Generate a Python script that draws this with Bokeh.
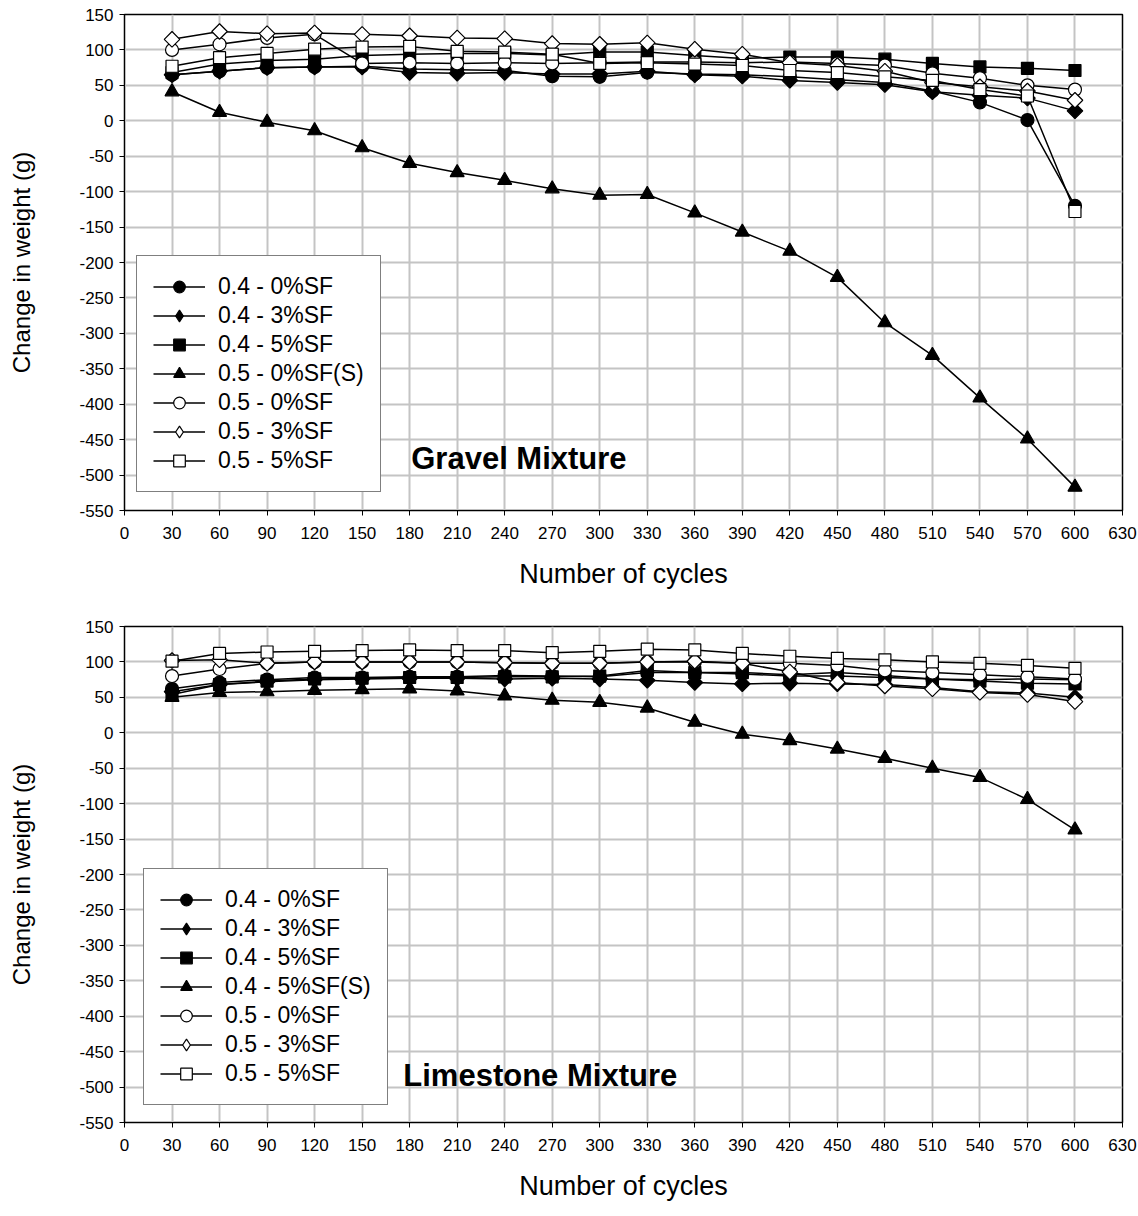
import numpy as np
from bokeh.plotting import figure
from bokeh.layouts import column
from bokeh.models import (Range1d, FixedTicker, Label, Legend, ColumnDataSource,
                          PrintfTickFormatter)
from bokeh.embed import file_html
from bokeh.resources import INLINE

cycles = [30, 60, 90, 120, 150, 180, 210, 240, 270, 300,
          330, 360, 390, 420, 450, 480, 510, 540, 570, 600]

# ---- Gravel mixture ----
gravel_labels = ["0.4 - 0%SF", "0.4 - 3%SF", "0.4 - 5%SF", "0.5 - 0%SF(S)",
                 "0.5 - 0%SF", "0.5 - 3%SF", "0.5 - 5%SF"]
g_04_0 = [65, 70, 75, 76, 77, 73, 72, 71, 63, 62, 68, 66, 65, 62, 58, 54, 42, 26, 1, -120]
g_04_3 = [65, 70, 75, 76, 76, 68, 67, 68, 66, 66, 70, 65, 63, 57, 54, 51, 41, 36, 32, 14]
g_04_5 = [68, 80, 85, 87, 92, 94, 95, 95, 93, 97, 97, 92, 88, 90, 90, 87, 81, 76, 74, 71]
g_05_0s = [41, 12, -2, -14, -38, -60, -73, -84, -96, -105, -104, -130, -157, -184, -221,
           -285, -331, -391, -449, -517]
g_05_0 = [100, 108, 117, 122, 81, 82, 81, 82, 81, 82, 83, 83, 82, 83, 81, 78, 67, 60, 50, 44]
g_05_3 = [115, 126, 123, 124, 122, 120, 117, 116, 109, 108, 110, 101, 94, 82, 78, 70, 54, 48, 42, 29]
g_05_5 = [77, 89, 95, 101, 104, 105, 98, 97, 94, 81, 82, 80, 78, 71, 68, 62, 57, 44, 35, -128]

# ---- Limestone mixture ----
lime_labels = ["0.4 - 0%SF", "0.4 - 3%SF", "0.4 - 5%SF", "0.4 - 5%SF(S)",
               "0.5 - 0%SF", "0.5 - 3%SF", "0.5 - 5%SF"]
l_04_0 = [62, 71, 75, 78, 78, 79, 79, 81, 80, 79, 85, 85, 83, 80, 80, 78, 76, 75, 76, 75]
l_04_3 = [58, 68, 72, 75, 76, 77, 77, 76, 77, 76, 74, 71, 69, 70, 69, 68, 64, 58, 56, 50]
l_04_5 = [54, 68, 73, 76, 77, 78, 78, 79, 79, 80, 88, 85, 85, 82, 85, 81, 76, 73, 70, 69]
l_04_5s = [50, 57, 58, 60, 61, 62, 59, 52, 46, 43, 35, 15, -2, -11, -23, -36, -50, -63, -94, -137]
l_05_0 = [80, 90, 98, 100, 100, 100, 100, 99, 98, 98, 100, 100, 98, 98, 95, 88, 85, 82, 79, 76]
l_05_3 = [102, 103, 98, 100, 100, 100, 100, 99, 98, 98, 100, 101, 98, 86, 71, 66, 62, 57, 54, 44]
l_05_5 = [101, 112, 114, 115, 116, 117, 116, 116, 113, 115, 118, 117, 112, 108, 105, 103, 100, 98, 95, 91]

x_ticks = list(range(0, 631, 30))
y_ticks = list(range(-550, 151, 50))

FONT = "Liberation Sans"

# marker style per series: (plot marker, legend marker, fill, size, angle)
styles = [
    ("circle", "circle", "black", 13, 0.0),
    ("square", "diamond", "black", 11, np.pi / 4),
    ("square", "square", "black", 12, 0.0),
    ("triangle", "triangle", "black", 14, 0.0),
    ("circle", "circle", "white", 13, 0.0),
    ("square", "diamond", "white", 11, np.pi / 4),
    ("square", "square", "white", 12, 0.0),
]


def make_fig(series, labels, title, title_x, title_y, top, bottom, leg_loc):
    p = figure(width=1138, height=top + 496 + bottom, output_backend="svg",
               toolbar_location=None, x_range=Range1d(0, 630), y_range=Range1d(-550, 150))
    p.min_border_left = 124
    p.min_border_right = 16
    p.min_border_top = top
    p.min_border_bottom = bottom
    p.background_fill_color = "white"
    p.border_fill_color = "white"
    p.outline_line_color = "black"
    p.outline_line_width = 1.5

    p.xaxis.ticker = FixedTicker(ticks=x_ticks)
    p.yaxis.ticker = FixedTicker(ticks=y_ticks)
    p.yaxis.formatter = PrintfTickFormatter(format="%d")
    p.xaxis.formatter = PrintfTickFormatter(format="%d")
    for ax in (p.xaxis[0], p.yaxis[0]):
        ax.major_label_text_font = FONT
        ax.major_label_text_font_size = "17px"
        ax.major_label_text_color = "black"
        ax.axis_label_text_font = FONT
        ax.axis_label_text_font_style = "normal"
        ax.axis_label_text_color = "black"
        ax.axis_line_color = "black"
        ax.major_tick_line_color = "black"
        ax.major_tick_out = 5
        ax.major_tick_in = 0
        ax.minor_tick_line_color = None
    p.xaxis.axis_label = "Number of cycles"
    p.yaxis.axis_label = "Change in weight (g)"
    p.xaxis.axis_label_text_font_size = "27px"
    p.yaxis.axis_label_text_font_size = "24px"
    p.xaxis.major_label_standoff = 11
    p.yaxis.major_label_standoff = 6
    p.xaxis.axis_label_standoff = 17
    p.yaxis.axis_label_standoff = 41

    p.xgrid.ticker = FixedTicker(ticks=x_ticks)
    p.ygrid.ticker = FixedTicker(ticks=y_ticks)
    p.grid.grid_line_color = "#c4c4c4"
    p.grid.grid_line_width = 2

    items = []
    dummy_src = ColumnDataSource(data=dict(x=[np.nan], y=[np.nan]))
    for ys, lab, (mk, lmk, fill, sz, ang) in zip(series, labels, styles):
        ln = p.line(cycles, ys, line_color="black", line_width=1.5)
        sc = p.scatter(cycles, ys, marker=mk, size=sz, angle=ang,
                       fill_color=fill, line_color="black", line_width=1.2)
        if lmk != mk:
            dummy = p.scatter("x", "y", source=dummy_src, marker=lmk, size=sz,
                              fill_color=fill, line_color="black", line_width=1.2)
            items.append((lab, [ln, dummy]))
        else:
            items.append((lab, [ln, sc]))

    legend = Legend(items=items, location=leg_loc)
    legend.label_text_font = FONT
    legend.label_text_font_size = "23px"
    legend.label_text_color = "black"
    legend.glyph_width = 52
    legend.glyph_height = 29
    legend.label_height = 25
    legend.spacing = 0
    legend.padding = 16
    legend.label_standoff = 13
    legend.margin = 0
    legend.border_line_color = "black"
    legend.border_line_width = 1.5
    legend.background_fill_color = "white"
    legend.background_fill_alpha = 1.0
    p.add_layout(legend, "center")

    p.add_layout(Label(x=title_x, y=title_y, text=title, text_font=FONT,
                       text_font_size="31px", text_font_style="bold",
                       text_color="black", text_baseline="middle"))
    return p


p1 = make_fig([g_04_0, g_04_3, g_04_5, g_05_0s, g_05_0, g_05_3, g_05_5], gravel_labels,
              "Gravel Mixture", 181, -476, 14, 98, (12, 18))
p2 = make_fig([l_04_0, l_04_3, l_04_5, l_04_5s, l_05_0, l_05_3, l_05_5], lime_labels,
              "Limestone Mixture", 176, -483, 18, 94, (19, 17))

layout = column(p1, p2, spacing=0)
open("out.html", "w").write(file_html(layout, INLINE))
